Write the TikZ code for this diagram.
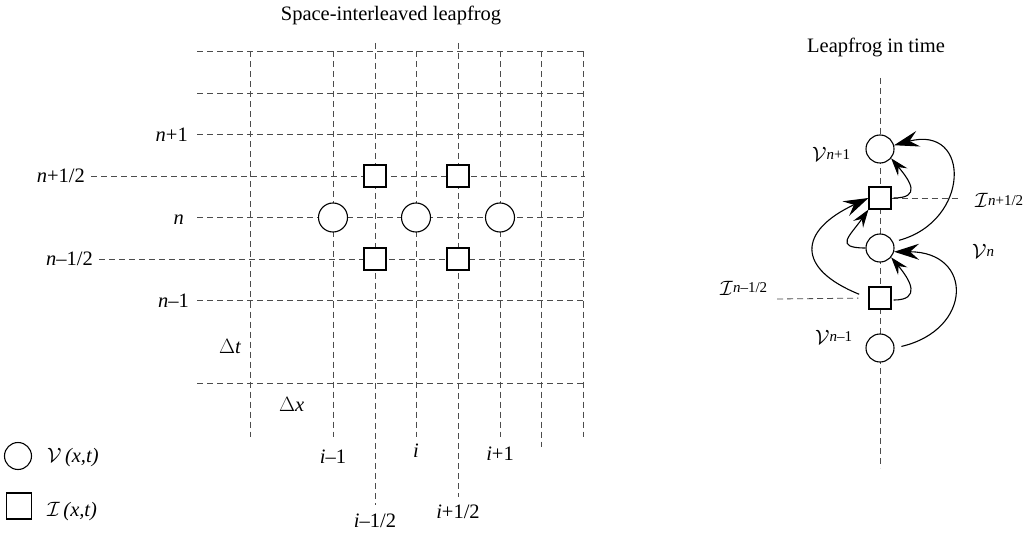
\documentclass[tikz,border=0pt]{standalone}
\usepackage{fontspec}
\setmainfont{Liberation Serif}
\usetikzlibrary{arrows.meta}
\newcommand{\spx}[1]{\raisebox{2.5pt}{\fontsize{15}{15}\selectfont #1}}
\newcommand{\scV}{$\mathcal{V}$}
\newcommand{\scI}{$\mathcal{I}$}
\begin{document}
\begin{tikzpicture}[x=1pt,y=1pt,
  gridline/.style={draw=black!70, line width=0.8pt, dash pattern=on 6pt off 4pt},
  vnode/.style={circle, draw, line width=1.1pt, fill=white, minimum size=28pt, inner sep=0pt},
  inode/.style={rectangle, draw, line width=1.1pt, fill=white, minimum size=22pt, inner sep=0pt},
  lab/.style={font=\fontsize{20.5}{22}\selectfont, inner sep=0pt},
  bigarr/.style={line width=1.1pt, -{Stealth[length=25pt,width=16pt,inset=9pt]}},
  smallarr/.style={line width=1.1pt, -{Stealth[length=18pt,width=12pt,inset=6.5pt]}},
]
\useasboundingbox[fill=white] (0,0) rectangle (1032,-534);

% ---------- left: space-interleaved leapfrog ----------
\node[lab, anchor=base] (t1) at (391,-21) {Space-interleaved leapfrog};

% horizontal grid lines
\foreach \y in {51.5,93,134.5,217.5,300.5,383.5}
  \draw[gridline] (197,-\y) -- (585,-\y);
\draw[gridline] (91,-176) -- (585,-176);
\draw[gridline] (99,-259) -- (585,-259);
% vertical grid lines
\foreach \x in {250,333,416,500,583}
  \draw[gridline] (\x,-51.5) -- (\x,-437);
\draw[gridline] (541,-51.5) -- (541,-447);
\draw[gridline] (375,-43) -- (375,-505);
\draw[gridline] (458,-43) -- (458,-497);

% grid nodes
\node[vnode, minimum size=29pt] (v1) at (333,-217.5) {};
\node[vnode, minimum size=29pt] (v2) at (416,-217.5) {};
\node[vnode, minimum size=29pt] (v3) at (500,-217.5) {};
\node[inode] (i1) at (375,-176) {};
\node[inode] (i2) at (458,-176) {};
\node[inode] (i3) at (375,-259) {};
\node[inode] (i4) at (458,-259) {};

% row labels
\node[lab, anchor=base east] (r1) at (188,-141.5) {\textit{n}+1};
\node[lab, anchor=base east] (r2) at (85,-182.5) {\textit{n}+1/2};
\node[lab, anchor=base east] (r3) at (184,-224.5) {\textit{n}};
\node[lab, anchor=base east] (r4) at (93,-265.5) {\textit{n}–1/2};
\node[lab, anchor=base east] (r5) at (189,-307) {\textit{n}–1};
\node[lab, anchor=base west] (dt) at (219,-353) {$\Delta$\textit{t}};
\node[lab, anchor=base west] (dx) at (279,-411) {$\Delta$\textit{x}};
% column labels
\node[lab, anchor=base] (c1l) at (333,-463) {\textit{i}–1};
\node[lab, anchor=base] (c2l) at (416,-457) {\textit{i}};
\node[lab, anchor=base] (c3l) at (500,-460) {\textit{i}+1};
\node[lab, anchor=base] (c4l) at (375,-527) {\textit{i}–1/2};
\node[lab, anchor=base] (c5l) at (458,-518) {\textit{i}+1/2};

% legend
\node[vnode, minimum size=27pt] (lv) at (18,-456) {};
\node[inode, minimum width=25pt, minimum height=26pt] (li) at (19,-506) {};
\node[lab, anchor=base west] (lvt) at (47,-462) {\scV\,\textit{(x,t)}};
\node[lab, anchor=base west] (lit) at (47,-516) {\scI\,\textit{(x,t)}};

% ---------- right: leapfrog in time ----------
\node[lab, anchor=base] (t2) at (876,-53) {Leapfrog in time};
\coordinate (vtop) at (880,-78);
\coordinate (vbot) at (880,-468);
\draw[gridline] (vtop) -- (vbot);

\node[inode] (s1) at (880,-198) {};
\node[inode] (s0) at (880,-298) {};
\coordinate (hr) at (958,-198);
\coordinate (hl) at (777,-299);
\draw[gridline] (s1.east) -- (hr);
\draw[gridline, shorten >=10pt] (hl) -- (s0.west);

\node[vnode] (c2) at (880,-149) {};
\node[vnode] (c1) at (880,-248) {};
\node[vnode] (c0) at (880,-348) {};

\node[lab, anchor=base west] (lc2) at (812,-162) {\scV\spx{\textit{n}+1}};
\node[lab, anchor=base west] (ls1) at (975,-208) {\scI\spx{\textit{n}+1/2}};
\node[lab, anchor=base west] (lc1) at (972,-259) {\scV\spx{\textit{n}}};
\node[lab, anchor=base west] (ls0) at (720,-295) {\scI\spx{\textit{n}–1/2}};
\node[lab, anchor=base west] (lc0) at (815,-344) {\scV\spx{\textit{n}–1}};

% arrows
\draw[smallarr, shorten <=2pt] (s1.east) to[out=0,in=-50,distance=30] (c2.-40);
\draw[bigarr, shorten <=6pt] (c1.25) to[out=15,in=15,distance=80] (c2.15);
\draw[smallarr] (c1.180) to[out=180,in=-125,distance=32] (s1.south west);
\draw[bigarr, shorten <=10pt] (s0.west) to[out=158,in=-155,distance=78] (s1.west);
\draw[smallarr, shorten <=2pt] (s0.-10) to[out=0,in=-50,distance=30] (c1.-40);
\draw[bigarr, shorten <=7pt] (c0.0) to[out=13,in=0,distance=80] (c1.-15);
\end{tikzpicture}
\end{document}
